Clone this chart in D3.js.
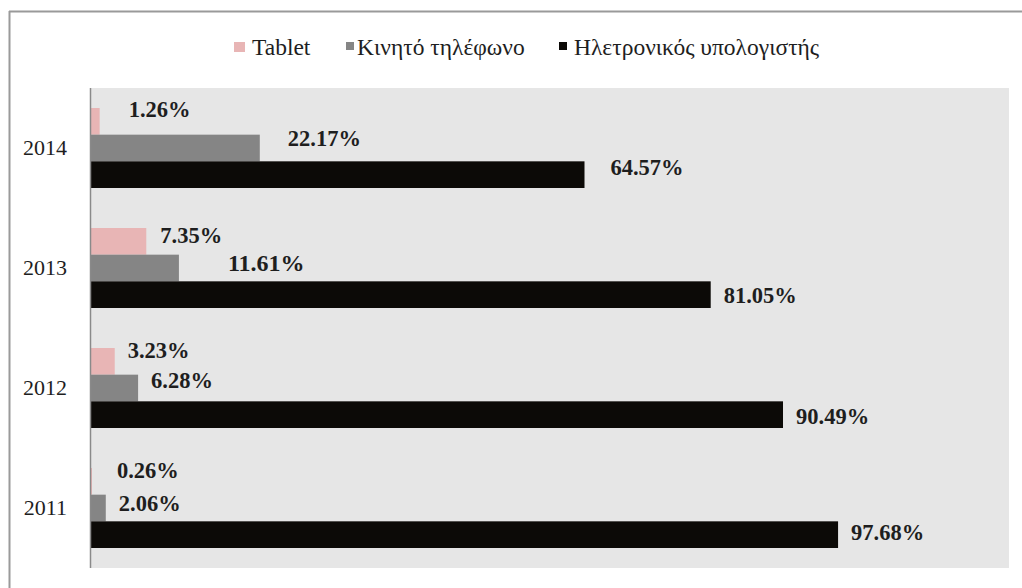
<!DOCTYPE html>
<html>
<head>
<meta charset="utf-8">
<script src="https://cdn.jsdelivr.net/npm/d3@7"></script>
<style>
  html, body { margin: 0; padding: 0; background: #ffffff; }
  svg { display: block; }
</style>
</head>
<body>
<svg id="chart" width="1022" height="588"></svg>
<script>
// Years, top to bottom
const years = ["2014", "2013", "2012", "2011"];
// Device series
const seriesNames = ["Tablet", "Κινητό τηλέφωνο", "Ηλετρονικός υπολογιστής"];
// Share per device, one entry per year (same order as years)
const tabletValues   = [1.26, 7.35, 3.23, 0.26];
const mobileValues   = [22.17, 11.61, 6.28, 2.06];
const computerValues = [64.57, 81.05, 90.49, 97.68];

const seriesColors = ["#e8b5b5", "#858585", "#0c0a07"];
const serif = "'Liberation Serif', 'Times New Roman', serif";

// Hand-placed nudges of the value labels [dx, dy] per series, per year
const labelNudge = [
  [[16, -12], [1, -6], [0, -11], [12, -11]],
  [[15, -9.5], [36, -5], [0, -8], [0, -5]],
  [[13, -7.5], [0, 1], [0, 2], [0, -2.5]]
];

const seriesValues = [tabletValues, mobileValues, computerValues];
const rows = years.map((yr, i) => ({
  year: yr,
  values: seriesValues.map((vals, s) => ({ s, name: seriesNames[s], v: vals[i], i }))
}));

const svg = d3.select("#chart");

// Outer frame
svg.append("line").attr("x1", 9).attr("x2", 1022).attr("y1", 11.5).attr("y2", 11.5)
  .attr("stroke", "#9a9a9a").attr("stroke-width", 2);
svg.append("line").attr("x1", 9.5).attr("x2", 9.5).attr("y1", 11).attr("y2", 588)
  .attr("stroke", "#9a9a9a").attr("stroke-width", 2);

const plot = { left: 90, right: 1009, top: 88, bottom: 568 };

const x = d3.scaleLinear().domain([0, 120]).range([plot.left, plot.right]);
const y0 = d3.scaleBand().domain(years).range([plot.top, plot.bottom])
  .paddingInner(1 / 3).paddingOuter(1 / 6);
const y1 = d3.scaleBand().domain(d3.range(seriesNames.length)).range([0, y0.bandwidth()]);

// Plot background
svg.append("rect")
  .attr("x", plot.left).attr("y", plot.top)
  .attr("width", plot.right - plot.left).attr("height", plot.bottom - plot.top)
  .attr("fill", "#e6e6e6");

// Bars
const groups = svg.append("g").selectAll("g").data(rows).join("g")
  .attr("transform", d => `translate(0,${y0(d.year)})`);

groups.selectAll("rect").data(d => d.values).join("rect")
  .attr("x", x(0))
  .attr("y", d => y1(d.s))
  .attr("width", d => x(d.v) - x(0))
  .attr("height", y1.bandwidth())
  .attr("fill", d => seriesColors[d.s]);

// Value labels
groups.selectAll("text").data(d => d.values).join("text")
  .attr("x", d => x(d.v) + 13 + labelNudge[d.s][d.i][0])
  .attr("y", d => y1(d.s) + y1.bandwidth() / 2 + labelNudge[d.s][d.i][1])
  .attr("dominant-baseline", "central")
  .attr("font-family", serif)
  .attr("font-size", d => (d.s === 1 && d.i === 1) ? 24 : 22.5)
  .attr("font-weight", "bold")
  .attr("fill", "#1e1e1e")
  .text(d => d.v.toFixed(2) + "%");

// Category axis
const yAxis = d3.axisLeft(y0).tickSize(0).tickPadding(23);
const ax = svg.append("g").attr("transform", `translate(${plot.left},0)`).call(yAxis);
ax.select(".domain").attr("stroke", "#8a8a8a").attr("stroke-width", 1.5)
  .attr("d", `M0.5,${plot.top}V${plot.bottom}`);
ax.selectAll("text").attr("font-size", 22).attr("fill", "#1e1e1e")
  .attr("font-family", serif);

// Legend
const legendItems = [
  { name: seriesNames[0], sx: 234, tx: 252 },
  { name: seriesNames[1], sx: 346, tx: 357 },
  { name: seriesNames[2], sx: 559, tx: 574 }
];
const legend = svg.append("g");
legend.selectAll("rect").data(legendItems).join("rect")
  .attr("x", d => d.sx).attr("y", 42)
  .attr("width", (d, i) => i === 0 ? 11 : 8).attr("height", (d, i) => i === 0 ? 10 : 8)
  .attr("fill", (d, i) => seriesColors[i]);
legend.selectAll("text").data(legendItems).join("text")
  .attr("x", d => d.tx).attr("y", 47)
  .attr("dominant-baseline", "central")
  .attr("font-family", serif)
  .attr("font-size", 23.5)
  .attr("fill", "#1e1e1e")
  .text(d => d.name);
</script>
</body>
</html>
